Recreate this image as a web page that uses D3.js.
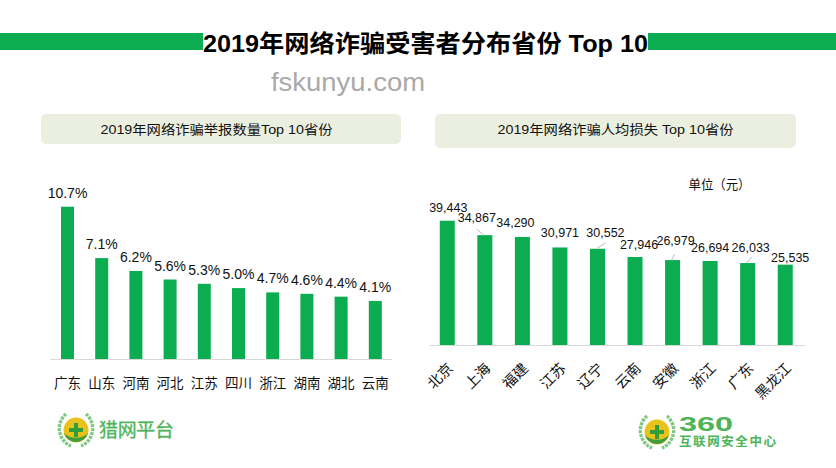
<!DOCTYPE html>
<html><head><meta charset="utf-8">
<script src="https://cdn.jsdelivr.net/npm/d3@7/dist/d3.min.js"></script>
<style>html,body{margin:0;padding:0;background:#fff}svg{display:block}text{font-family:"Liberation Sans","Noto Sans CJK SC",sans-serif}</style>
</head><body><svg id="c" width="836" height="468"></svg>
<script>
const titleText = "2019年网络诈骗受害者分布省份 Top 10";
const leftTitle = "2019年网络诈骗举报数量Top 10省份";
const rightTitle = "2019年网络诈骗人均损失 Top 10省份";
const unitText = "单位（元）";
const watermark = "fskunyu.com";
const leftCats = ["广东","山东","河南","河北","江苏","四川","浙江","湖南","湖北","云南"];
const leftVals = [10.7,7.1,6.2,5.6,5.3,5.0,4.7,4.6,4.4,4.1];
const rightCats = ["北京","上海","福建","江苏","辽宁","云南","安徽","浙江","广东","黑龙江"];
const rightVals = [39443,34867,34290,30971,30552,27946,26979,26694,26033,25535];
// manual label nudges of the right chart (pixels), separate from the data
const rightNudgeX = [1,-8,-7,0,8,4,3,0,3,5];
const rightNudgeY = [-9,-13,-10,-10,-12,-8,-15,-9,-11,-3];
const leaderIdx = [1,4,6,8];
const leaderDx = {1:-8,4:8,6:2,8:4};
const GREEN="#0BAD50";
const svg=d3.select("#c");

// header
svg.append("rect").attr("x",0).attr("y",33).attr("width",203).attr("height",17).attr("fill",GREEN);
svg.append("rect").attr("x",648).attr("y",33).attr("width",188).attr("height",17).attr("fill",GREEN);
svg.append("text").attr("x",425.5).attr("y",52).attr("text-anchor","middle").attr("font-size",24).attr("font-weight",700)
  .attr("textLength",445).attr("lengthAdjust","spacingAndGlyphs").attr("fill","#000").text(titleText);
svg.append("text").attr("x",348).attr("y",91).attr("text-anchor","middle").attr("font-size",26)
  .attr("textLength",154).attr("lengthAdjust","spacingAndGlyphs").attr("fill","#a9a9a9").text(watermark);

// sub headers
[[41,114,360,30,216.5,leftTitle,232],[435,114,361,34,615.5,rightTitle,236]].forEach(d=>{
  svg.append("rect").attr("x",d[0]).attr("y",d[1]).attr("width",d[2]).attr("height",d[3]).attr("rx",5).attr("fill","#EBEFDF");
  svg.append("text").attr("x",d[4]).attr("y",134).attr("text-anchor","middle").attr("font-size",13)
    .attr("textLength",d[6]).attr("lengthAdjust","spacingAndGlyphs").attr("fill","#111").text(d[5]);
});

// left chart
const xL=d3.scaleBand().domain(leftCats).range([50.4,392.4]).paddingInner(0.62).paddingOuter(0.31);
const yL=d3.scaleLinear().domain([0,10.7]).range([359.5,206.7]);
const gL=svg.append("g");
gL.selectAll("rect").data(leftVals).join("rect")
  .attr("x",(d,i)=>xL(leftCats[i])).attr("width",xL.bandwidth())
  .attr("y",d=>yL(d)).attr("height",d=>yL(0)-yL(d)).attr("fill",GREEN);
gL.append("line").attr("x1",50).attr("x2",392).attr("y1",359.5).attr("y2",359.5).attr("stroke","#d9d9d9");
gL.selectAll("text.v").data(leftVals).join("text").attr("class","v")
  .attr("x",(d,i)=>xL(leftCats[i])+xL.bandwidth()/2).attr("y",d=>yL(d)-9).attr("text-anchor","middle")
  .attr("font-size",14).attr("fill","#111").text(d=>d.toFixed(1)+"%");
gL.selectAll("text.c").data(leftCats).join("text").attr("class","c")
  .attr("x",d=>xL(d)+xL.bandwidth()/2).attr("y",388).attr("text-anchor","middle")
  .attr("font-size",13.5).attr("fill","#111").text(d=>d);

// right chart
const xR=d3.scaleBand().domain(rightCats).range([428.5,804]).paddingInner(0.6).paddingOuter(0.3);
const yR=d3.scaleLinear().domain([0,39443]).range([345.3,220.7]);
const gR=svg.append("g");
gR.selectAll("rect").data(rightVals).join("rect")
  .attr("x",(d,i)=>xR(rightCats[i])).attr("width",xR.bandwidth())
  .attr("y",d=>yR(d)).attr("height",d=>yR(0)-yR(d)).attr("fill",GREEN);
gR.append("line").attr("x1",430).attr("x2",805).attr("y1",345.5).attr("y2",345.5).attr("stroke","#d9d9d9");
const cxR=i=>xR(rightCats[i])+xR.bandwidth()/2;
gR.selectAll("text.v").data(rightVals).join("text").attr("class","v")
  .attr("x",(d,i)=>cxR(i)+rightNudgeX[i]).attr("y",(d,i)=>yR(d)+rightNudgeY[i])
  .attr("text-anchor","middle").attr("font-size",12.5).attr("fill","#111").text(d3.format(","));
gR.selectAll("text.c").data(rightCats).join("text").attr("class","c")
  .attr("transform",(d,i)=>`translate(${cxR(i)-1.5},${361}) rotate(-45)`).attr("text-anchor","end").attr("dy","0.8em")
  .attr("font-size",14.5).attr("fill","#111").text(d=>d);
leaderIdx.forEach(i=>{
  const y=yR(rightVals[i]);
  gR.append("line").attr("x1",cxR(i)-1).attr("x2",cxR(i)+leaderDx[i]).attr("y1",y).attr("y2",y-6).attr("stroke","#bbb");
});
svg.append("text").attr("x",719.5).attr("y",189).attr("text-anchor","middle").attr("font-size",13).attr("textLength",62).attr("lengthAdjust","spacingAndGlyphs").attr("fill","#111").text(unitText);

// logos
function logo(cx,cy){
  const g=svg.append("g").attr("transform",`translate(${cx},${cy})`);
  [-1,1].forEach(s=>{
    g.append("path").attr("d",`M${s*10},-16 A19 19 0 0 ${s>0?1:0} ${s*5},16`).attr("fill","none").attr("stroke","#7cc880").attr("stroke-width",3.4).attr("stroke-dasharray","3 1");
  });
  g.append("circle").attr("r",12.5).attr("fill","#E9C31C");
  g.append("path").attr("d","M-12,3 A12.5 12.5 0 0 0 12,3 A14 10 0 0 1 -12,3").attr("fill","#3f9e3a");
  g.append("path").attr("d","M-2,-7H2V-2H7V2H2V7H-2V2H-7V-2H-2Z").attr("fill","#2f9e3c");
}
logo(76,430);
svg.append("text").attr("x",99).attr("y",437).attr("font-size",19).attr("fill","#4DB45A").attr("stroke","#4DB45A").attr("stroke-width",0.3).attr("textLength",75).text("猎网平台");
logo(657,432);
svg.append("text").attr("x",679).attr("y",431).attr("font-size",21).attr("font-weight",700).attr("fill","#4DB45A").attr("textLength",54).attr("lengthAdjust","spacingAndGlyphs").text("360");
svg.append("text").attr("x",679).attr("y",446).attr("font-size",12.5).attr("font-weight",700).attr("fill","#4DB45A").attr("textLength",97).text("互联网安全中心");
</script></body></html>
